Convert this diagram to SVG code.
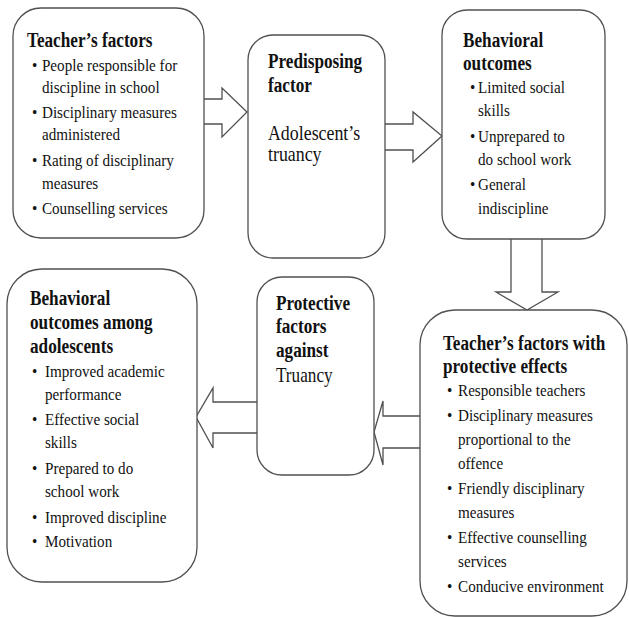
<svg xmlns="http://www.w3.org/2000/svg" width="629" height="618" viewBox="0 0 629 618">
<style>
.box{fill:#fff;stroke:#505050;stroke-width:1.3}
.arr{fill:#fff;stroke:#505050;stroke-width:1.3;stroke-linejoin:miter}
text{font-family:"Liberation Serif","Times New Roman",serif;fill:#111}
.t{font-size:20px;font-weight:bold}
.b{font-size:17.6px}
.big{font-size:20.8px}
</style>
<rect width="629" height="618" fill="#fff"/>
<g id="connectors">
<path class="arr" d="M204,99 L222,99 L222,88 L247,112 L222,137 L222,124 L204,124"/>
<path class="arr" d="M385,124 L413,124 L413,112 L442,136 L413,162 L413,150 L385,150"/>
<path class="arr" d="M511,239 L511,292 L496,292 L527,310 L558,292 L542,292 L542,239"/>
<path class="arr" d="M420,416 L383,416 L383,401 L374,432 L383,465 L383,448 L420,448"/>
<path class="arr" d="M258,402 L213,402 L213,388 L196,417 L213,448 L213,433 L258,433"/>
</g>
<g id="n1">
<rect class="box" x="13" y="8" width="191" height="230" rx="28"/>
<g transform="scale(0.86 1)">
<text class="t" x="31.4" y="47">Teacher’s factors</text>
<text class="b" x="37.2" y="71">•</text><text class="b" x="48.8" y="71">People responsible for</text>
<text class="b" x="48.8" y="93">discipline in school</text>
<text class="b" x="37.2" y="118">•</text><text class="b" x="48.8" y="118">Disciplinary measures</text>
<text class="b" x="48.8" y="140">administered</text>
<text class="b" x="37.2" y="166">•</text><text class="b" x="48.8" y="166">Rating of disciplinary</text>
<text class="b" x="48.8" y="189">measures</text>
<text class="b" x="37.2" y="214">•</text><text class="b" x="48.8" y="214">Counselling services</text>
</g>
</g>
<g id="n2">
<rect class="box" x="248" y="35" width="137" height="223" rx="25"/>
<g transform="scale(0.86 1)">
<text class="t" x="311.6" y="68">Predisposing</text>
<text class="t" x="311.6" y="92">factor</text>
<text class="big" x="311.6" y="140">Adolescent’s</text>
<text class="big" x="311.6" y="161">truancy</text>
</g>
</g>
<g id="n3">
<rect class="box" x="442" y="10" width="163" height="229" rx="25"/>
<g transform="scale(0.86 1)">
<text class="t" x="538.4" y="47">Behavioral</text>
<text class="t" x="538.4" y="70">outcomes</text>
<text class="b" x="546.5" y="93">•</text><text class="b" x="555.8" y="93">Limited social</text>
<text class="b" x="555.8" y="116">skills</text>
<text class="b" x="546.5" y="142">•</text><text class="b" x="555.8" y="142">Unprepared to</text>
<text class="b" x="555.8" y="165">do school work</text>
<text class="b" x="546.5" y="190">•</text><text class="b" x="555.8" y="190">General</text>
<text class="b" x="555.8" y="214">indiscipline</text>
</g>
</g>
<g id="n4">
<rect class="box" x="420" y="310" width="207" height="306" rx="35"/>
<g transform="scale(0.86 1)">
<text class="t" x="515.1" y="350">Teacher’s factors with</text>
<text class="t" x="515.1" y="373">protective effects</text>
<text class="b" x="519.8" y="396">•</text><text class="b" x="532.6" y="396">Responsible teachers</text>
<text class="b" x="519.8" y="421">•</text><text class="b" x="532.6" y="421">Disciplinary measures</text>
<text class="b" x="532.6" y="445">proportional to the</text>
<text class="b" x="532.6" y="469">offence</text>
<text class="b" x="519.8" y="494">•</text><text class="b" x="532.6" y="494">Friendly disciplinary</text>
<text class="b" x="532.6" y="518">measures</text>
<text class="b" x="519.8" y="543">•</text><text class="b" x="532.6" y="543">Effective counselling</text>
<text class="b" x="532.6" y="567">services</text>
<text class="b" x="519.8" y="592">•</text><text class="b" x="532.6" y="592">Conducive environment</text>
</g>
</g>
<g id="n5">
<rect class="box" x="257" y="277" width="117" height="198" rx="25"/>
<g transform="scale(0.86 1)">
<text class="t" x="320.9" y="310">Protective</text>
<text class="t" x="320.9" y="333">factors</text>
<text class="t" x="320.9" y="357">against</text>
<text class="big" x="320.9" y="382" style="font-size:20px">Truancy</text>
</g>
</g>
<g id="n6">
<rect class="box" x="7" y="269" width="190" height="313" rx="35"/>
<g transform="scale(0.86 1)">
<text class="t" x="34.9" y="305">Behavioral</text>
<text class="t" x="34.9" y="329">outcomes among</text>
<text class="t" x="34.9" y="353">adolescents</text>
<text class="b" x="37.2" y="377">•</text><text class="b" x="52.3" y="377">Improved academic</text>
<text class="b" x="52.3" y="400">performance</text>
<text class="b" x="37.2" y="425">•</text><text class="b" x="52.3" y="425">Effective social</text>
<text class="b" x="52.3" y="448">skills</text>
<text class="b" x="37.2" y="474">•</text><text class="b" x="52.3" y="474">Prepared to do</text>
<text class="b" x="52.3" y="497">school work</text>
<text class="b" x="37.2" y="523">•</text><text class="b" x="52.3" y="523">Improved discipline</text>
<text class="b" x="37.2" y="547">•</text><text class="b" x="52.3" y="547">Motivation</text>
</g>
</g>
</svg>
